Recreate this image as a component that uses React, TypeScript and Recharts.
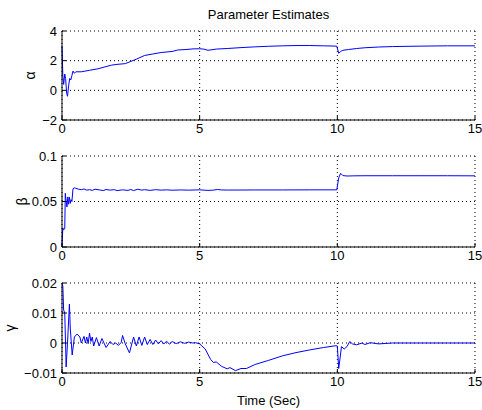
import React from "react";
import { LineChart, Line, XAxis, YAxis, CartesianGrid, Label } from "recharts";

// alpha estimate
const alphaTime = [0, 0.03, 0.06, 0.1, 0.13, 0.17, 0.2, 0.24, 0.28, 0.32, 0.36, 0.4, 0.45, 0.5, 0.7, 1.0, 1.3, 1.6, 1.8, 2.0, 2.3, 2.5, 2.7, 3.0, 3.3, 3.6, 4.0, 4.2, 4.5, 4.8, 5.0, 5.15, 5.3, 5.6, 6.0, 6.5, 7.0, 7.5, 8.0, 8.5, 9.0, 9.5, 9.98, 10.05, 10.12, 10.2, 10.4, 10.7, 11.0, 11.5, 12, 13, 14, 15];
const alphaValues = [3.0, 1.0, 0.4, 1.1, 0.8, -0.2, -0.4, 0.3, 0.8, 0.7, 1.0, 1.3, 1.15, 1.25, 1.25, 1.35, 1.45, 1.6, 1.7, 1.75, 1.8, 1.95, 2.1, 2.35, 2.45, 2.55, 2.62, 2.72, 2.75, 2.8, 2.8, 2.78, 2.7, 2.78, 2.82, 2.88, 2.93, 2.97, 3.0, 3.02, 3.02, 3.0, 2.98, 2.5, 2.62, 2.7, 2.75, 2.82, 2.87, 2.92, 2.95, 2.98, 3.0, 3.0];

// beta estimate
const betaTime = [0, 0.03, 0.06, 0.1, 0.12, 0.15, 0.18, 0.21, 0.24, 0.27, 0.3, 0.33, 0.36, 0.4, 0.45, 0.5, 0.6, 0.7, 0.8, 0.9, 1.0, 1.1, 1.2, 1.35, 1.5, 1.6, 1.75, 1.9, 2.0, 2.2, 2.4, 2.5, 2.6, 2.75, 2.9, 3.0, 3.2, 3.4, 3.6, 3.8, 4.0, 4.3, 4.6, 5.0, 5.3, 5.5, 5.65, 5.8, 6.0, 6.5, 7, 8, 9, 9.98, 10.05, 10.12, 10.2, 10.35, 10.6, 11, 12, 13, 14, 15];
const betaValues = [0, 0.021, 0.019, 0.02, 0.059, 0.05, 0.044, 0.055, 0.047, 0.055, 0.048, 0.052, 0.05, 0.064, 0.065, 0.0645, 0.0635, 0.063, 0.0638, 0.0625, 0.063, 0.0622, 0.0635, 0.0628, 0.062, 0.0632, 0.0625, 0.063, 0.062, 0.0628, 0.0622, 0.0632, 0.062, 0.0635, 0.0625, 0.063, 0.0622, 0.063, 0.0625, 0.0628, 0.0624, 0.0627, 0.0625, 0.0628, 0.0622, 0.0625, 0.0632, 0.0627, 0.0626, 0.0626, 0.0627, 0.0627, 0.0628, 0.0628, 0.076, 0.081, 0.0785, 0.078, 0.0782, 0.0783, 0.0783, 0.0783, 0.0783, 0.0782];

// gamma estimate
const gammaTime = [0, 0.03, 0.06, 0.1, 0.15, 0.2, 0.27, 0.3, 0.37, 0.45, 0.55, 0.65, 0.7, 0.8, 0.85, 0.9, 0.95, 1.0, 1.05, 1.1, 1.15, 1.25, 1.35, 1.45, 1.6, 1.75, 1.85, 1.95, 2.05, 2.15, 2.2, 2.3, 2.45, 2.6, 2.7, 2.8, 2.9, 3.0, 3.1, 3.2, 3.3, 3.4, 3.5, 3.6, 3.7, 3.8, 3.9, 4.0, 4.15, 4.3, 4.45, 4.6, 4.75, 4.85, 5.0, 5.2, 5.4, 5.5, 5.6, 5.8, 6.0, 6.1, 6.3, 6.5, 6.7, 7.0, 7.5, 8.0, 8.5, 9.0, 9.5, 9.95, 10.0, 10.05, 10.1, 10.15, 10.25, 10.35, 10.45, 10.55, 10.7, 10.9, 11.0, 11.2, 11.5, 12, 13, 14, 15];
const gammaValues = [0.02, 0.019, 0.011, 0.01, -0.008, 0.0, 0.013, 0.005, -0.004, 0.002, 0.003, 0.002, 0.0, 0.0022, 0.0, 0.002, -0.0002, 0.0033, 0.0005, 0.002, -0.001, 0.0018, -0.001, 0.0015, -0.0015, 0.0005, -0.0005, 0.0, -0.0008, 0.0002, 0.0025, -0.0003, -0.0033, 0.002, -0.001, 0.002, -0.0008, 0.002, -0.0005, 0.0012, -0.0005, 0.001, -0.0003, 0.0008, -0.0003, 0.0006, -0.0004, 0.0005, -0.0002, 0.0004, -0.0001, 0.0003, 0.0, 0.0001, -0.0003, -0.002, -0.0055, -0.0065, -0.0063, -0.0078, -0.0086, -0.0082, -0.0092, -0.0085, -0.0085, -0.0072, -0.0058, -0.0043, -0.0032, -0.0023, -0.0015, -0.0009, -0.001, -0.0085, -0.005, -0.0012, -0.002, -0.0012, 0.0005, -0.0003, -0.0006, 0.0, -0.0005, 0.0001, -0.0003, 0.0, 0.0, 0.0, 0.0];

const xTicks = [0, 5, 10, 15];
const alphaTicks = [-2, 0, 2, 4];
const betaTicks = [0, 0.05, 0.1];
const gammaTicks = [-0.01, 0, 0.01, 0.02];

const font = "'Liberation Sans', Arial, Helvetica, sans-serif";
const tickStyle = { fontSize: 13, fill: "#000", fontFamily: font };

const fmt = (v: number) => String(v).replace("-", "\u2212");

const zip = (t: number[], v: number[]) => t.map((x, i) => ({ t: x, v: v[i] }));

interface PanelProps {
  top: number;
  height: number;
  marginTop: number;
  data: { t: number; v: number }[];
  yDomain: [number, number];
  yTicks: number[];
  yName: string;
  yNameX: number;
}

const Panel = ({ top, height, marginTop, data, yDomain, yTicks, yName, yNameX }: PanelProps) => (
  <div style={{ position: "absolute", left: 0, top }}>
    <LineChart
      width={482}
      height={height}
      data={data}
      margin={{ top: marginTop, right: 7, left: 0, bottom: 0 }}
    >
      <CartesianGrid
        stroke="#000"
        strokeDasharray="1 3"
        verticalPoints={undefined}
        horizontalValues={yTicks}
        verticalValues={xTicks}
      />
      <XAxis
        dataKey="t"
        type="number"
        domain={[0, 15]}
        ticks={xTicks}
        height={20}
        tickSize={-4}
        tickMargin={8}
        tick={tickStyle}
        stroke="#000"
        interval={0}
      />
      <XAxis
        xAxisId="top"
        orientation="top"
        type="number"
        domain={[0, 15]}
        ticks={xTicks}
        height={0}
        tickSize={-4}
        tickFormatter={() => ""}
        stroke="#000"
        interval={0}
      />
      <YAxis
        type="number"
        domain={yDomain}
        ticks={yTicks}
        width={62}
        tickSize={-4}
        tickMargin={9}
        tick={tickStyle}
        tickFormatter={fmt}
        stroke="#000"
        interval={0}
        allowDataOverflow
      >
        <Label
          content={({ viewBox }: any) => {
            const cy = viewBox.y + viewBox.height / 2;
            return (
              <text
                x={yNameX}
                y={cy}
                transform={`rotate(-90 ${yNameX} ${cy})`}
                textAnchor="middle"
                dominantBaseline="central"
                fontSize={14}
                fontFamily={font}
              >
                {yName}
              </text>
            );
          }}
        />
      </YAxis>
      <YAxis
        yAxisId="right"
        orientation="right"
        type="number"
        domain={yDomain}
        ticks={yTicks}
        width={0}
        tickSize={-4}
        tickFormatter={() => ""}
        stroke="#000"
        interval={0}
      />
      <Line
        dataKey="v"
        type="linear"
        stroke="#0000ff"
        strokeWidth={1}
        dot={false}
        isAnimationActive={false}
      />
    </LineChart>
  </div>
);

export default function App() {
  return (
    <div
      style={{
        position: "absolute",
        left: 0,
        top: 0,
        width: 482,
        height: 410,
        background: "#fff",
        fontFamily: font,
      }}
    >
      <div
        style={{
          position: "absolute",
          left: 62,
          width: 413,
          top: 7,
          textAlign: "center",
          fontSize: 13,
        }}
      >
        Parameter Estimates
      </div>
      <Panel
        top={0}
        height={140}
        marginTop={31}
        data={zip(alphaTime, alphaValues)}
        yDomain={[-2, 4]}
        yTicks={alphaTicks}
        yName="α"
        yNameX={30}
      />
      <Panel
        top={140}
        height={127}
        marginTop={16}
        data={zip(betaTime, betaValues)}
        yDomain={[0, 0.1]}
        yTicks={betaTicks}
        yName="β"
        yNameX={22}
      />
      <Panel
        top={265}
        height={128}
        marginTop={18}
        data={zip(gammaTime, gammaValues)}
        yDomain={[-0.01, 0.02]}
        yTicks={gammaTicks}
        yName="γ"
        yNameX={10}
      />
      <div
        style={{
          position: "absolute",
          left: 62,
          width: 413,
          top: 393,
          textAlign: "center",
          fontSize: 13,
        }}
      >
        Time (Sec)
      </div>
    </div>
  );
}
